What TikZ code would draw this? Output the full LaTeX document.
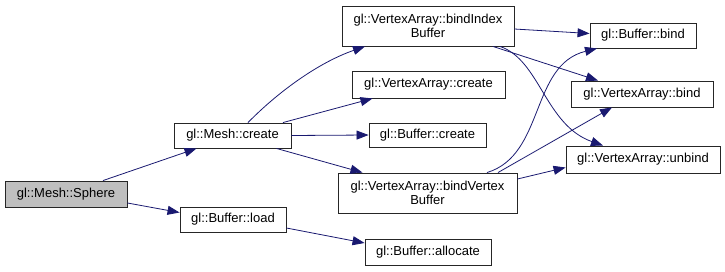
\documentclass[tikz,border=0pt]{standalone}
\usepackage{fontspec}
\setmainfont{Liberation Sans}
\usetikzlibrary{arrows.meta, positioning}
\usepackage{xcolor}
\definecolor{edgeblue}{RGB}{25,25,112}
\definecolor{rootgray}{RGB}{191,191,191}

\begin{document}
\begin{tikzpicture}[
    x=1pt, y=-1pt,
    font=\fontsize{13}{14}\selectfont,
    fn/.style={
        rectangle,
        draw=black!85,
        line width=0.9pt,
        align=center,
        inner sep=0pt,
        minimum height=26pt
    },
    root/.style={fn, fill=rootgray},
    call/.style={-{Triangle[length=12pt,width=9pt]}, color=edgeblue, line width=0.8pt}
]

\useasboundingbox (0,0) rectangle (725,271);

\node (sphere) [root, minimum width=122pt] at (66,194) {gl::Mesh::Sphere};
\node (meshcreate) [fn, minimum width=117pt, minimum height=25pt] at (232.5,135.5) {gl::Mesh::create};
\node (bufload) [fn, minimum width=106pt, minimum height=25pt] at (233,219.5) {gl::Buffer::load};
\node (bindidx) [fn, minimum width=172pt, minimum height=40pt] at (428,26) {gl::VertexArray::bindIndex\\Buffer};
\node (vacreate) [fn, minimum width=153pt, minimum height=27pt] at (428.5,84.5) {gl::VertexArray::create};
\node (bufcreate) [fn, minimum width=117pt, minimum height=24pt] at (427.5,135) {gl::Buffer::create};
\node (bindvtx) [fn, minimum width=179pt, minimum height=40pt] at (427.5,193) {gl::VertexArray::bindVertex\\Buffer};
\node (bufalloc) [fn, minimum width=126pt] at (428,252) {gl::Buffer::allocate};
\node (bufbind) [fn, minimum width=106pt, minimum height=25pt] at (643,35.5) {gl::Buffer::bind};
\node (vabind) [fn, minimum width=142pt] at (642,94) {gl::VertexArray::bind};
\node (vaunbind) [fn, minimum width=154pt, minimum height=27pt] at (643,159.5) {gl::VertexArray::unbind};

\draw [call] ([xshift=37pt]sphere.north) -- ([xshift=-36pt]meshcreate.south);
\draw [call] ([yshift=-9pt]sphere.east) -- ([yshift=7pt]bufload.west);
\draw [call] ([xshift=15.5pt]meshcreate.north) .. controls (280,90) and (320,62) .. ([xshift=-63pt]bindidx.south);
\draw [call] ([xshift=50.5pt]meshcreate.north) -- ([xshift=-56pt]vacreate.south);
\draw [call] (meshcreate.east) -- (bufcreate.west);
\draw [call] ([xshift=44pt]meshcreate.south) -- ([xshift=-65pt]bindvtx.north);
\draw [call] ([yshift=-8.5pt]bufload.east) -- ([yshift=9pt]bufalloc.west);
\draw [call] ([yshift=-3pt]bindidx.east) -- ([yshift=2pt]bufbind.west);
\draw [call] ([xshift=65pt]bindidx.south) -- ([xshift=-44pt]vabind.north);
\draw [call] ([xshift=72pt]bindidx.south) .. controls (540,60) and (545,125) .. ([xshift=-40pt]vaunbind.north);
\draw [call] ([xshift=59.5pt]bindvtx.north) .. controls (545,155) and (530,65) .. ([xshift=-46pt]bufbind.south);
\draw [call] ([xshift=70.5pt]bindvtx.north) -- ([xshift=-30pt]vabind.south);
\draw [call] ([yshift=14pt]bindvtx.east) -- ([yshift=-8pt]vaunbind.west);

\end{tikzpicture}
\end{document}
